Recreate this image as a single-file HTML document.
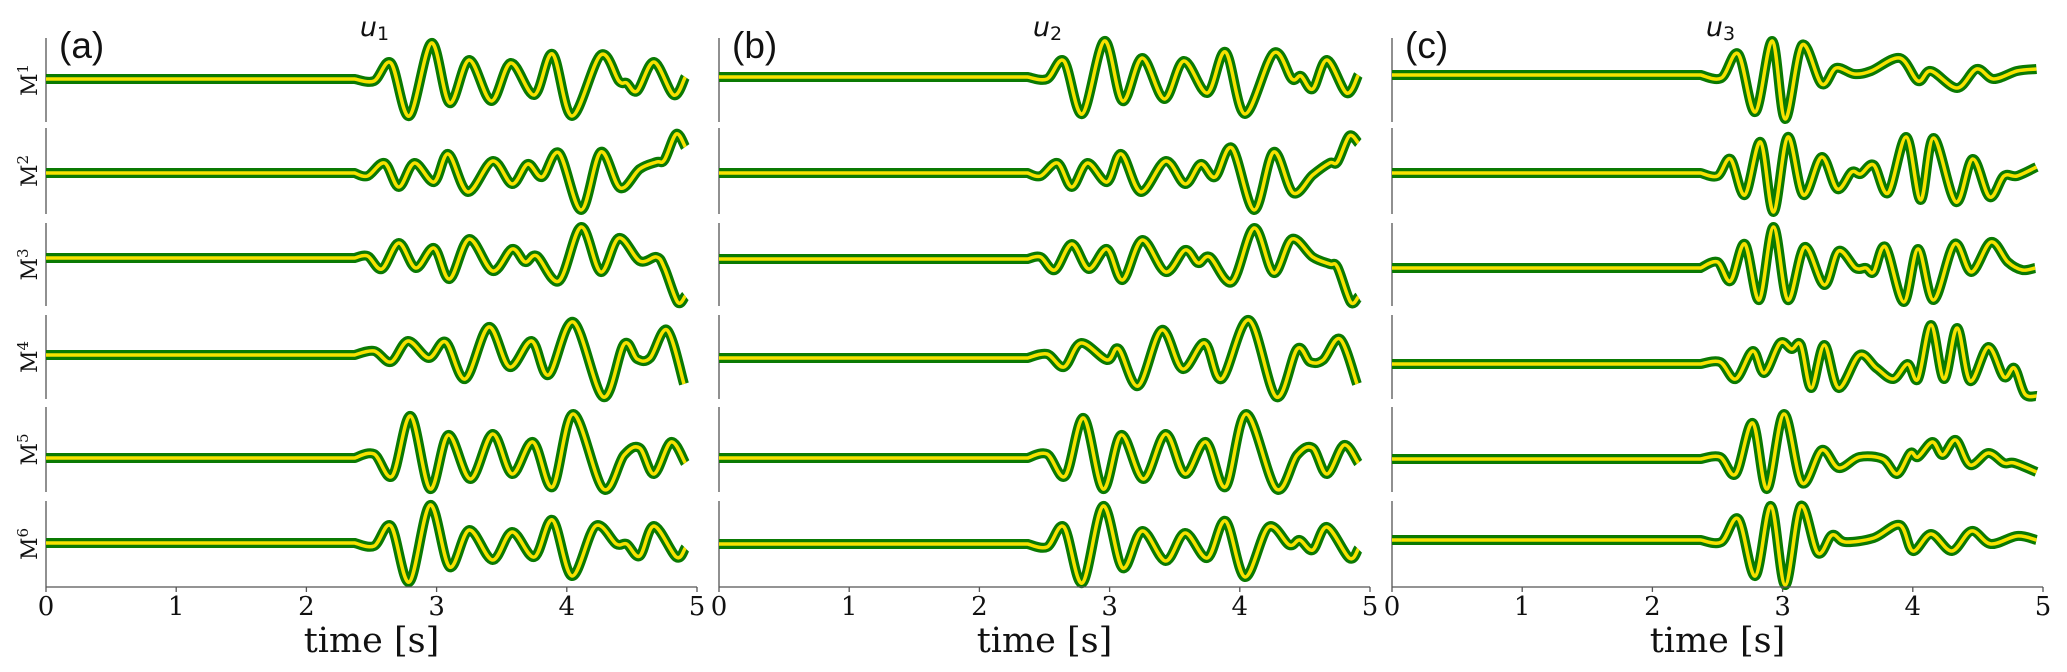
<!DOCTYPE html>
<html><head><meta charset="utf-8"><style>
html,body{margin:0;padding:0;background:#fff;}
svg{display:block;}
</style></head><body>
<svg id="fig" width="2067" height="672" viewBox="0 0 2067 672" xmlns="http://www.w3.org/2000/svg"></svg>
<script>
// ---- data: each trace = time points + displacement values ----
const tA1=[2.37,2.52,2.65,2.79,2.96,3.10,3.25,3.42,3.57,3.75,3.89,4.04,4.26,4.40,4.46,4.54,4.67,4.82,4.91];
const vA1=[0,-2,16,-37,36,-24,19,-22,16,-16,25,-37,24,-2,-4,-12,17,-16,2];
const tA2=[2.37,2.47,2.60,2.71,2.83,2.98,3.09,3.24,3.43,3.58,3.70,3.81,3.94,4.11,4.26,4.41,4.56,4.69,4.75,4.84,4.91];
const vA2=[0,-3,10,-14,10,-9,19,-19,12,-11,9,-4,20,-37,21,-15,4,11,13,39,26];
const tA3=[2.37,2.47,2.58,2.71,2.84,2.98,3.10,3.25,3.43,3.58,3.68,3.77,3.94,4.11,4.26,4.40,4.56,4.69,4.75,4.85,4.91];
const vA3=[0,2,-11,15,-10,10,-21,19,-13,9,-4,2,-23,31,-14,20,-3,1,-10,-44,-38];
const tA4=[2.37,2.52,2.65,2.78,2.94,3.07,3.22,3.40,3.56,3.73,3.86,4.05,4.28,4.44,4.54,4.64,4.77,4.90];
const vA4=[0,4,-7,14,-3,13,-24,28,-12,14,-20,33,-42,11,-4,-3,25,-29];
const tA5=[2.37,2.52,2.66,2.80,2.95,3.09,3.26,3.43,3.58,3.74,3.89,4.05,4.28,4.44,4.56,4.67,4.80,4.91];
const vA5=[0,4,-18,42,-31,23,-21,24,-16,16,-29,44,-31,3,10,-16,16,-5];
const tA6=[2.37,2.52,2.65,2.79,2.95,3.10,3.25,3.43,3.58,3.75,3.89,4.04,4.22,4.38,4.46,4.56,4.67,4.84,4.91];
const vA6=[0,-3,17,-39,38,-24,13,-17,11,-14,23,-33,17,-1,-1,-13,17,-14,-5];

const tB1=[2.37,2.52,2.65,2.79,2.96,3.10,3.25,3.42,3.57,3.75,3.89,4.04,4.26,4.40,4.47,4.56,4.67,4.82,4.91];
const vB1=[0,-2,16,-37,36,-24,19,-22,16,-16,25,-37,24,-2,1,-12,17,-16,2];
const tB2=[2.37,2.47,2.60,2.71,2.83,2.98,3.09,3.24,3.43,3.58,3.70,3.81,3.94,4.11,4.26,4.41,4.56,4.69,4.75,4.84,4.91];
const vB2=[0,-3,10,-14,10,-9,19,-19,12,-11,9,-4,25,-37,21,-20,-2,10,11,37,30];
const tB3=[2.37,2.47,2.58,2.71,2.84,2.98,3.10,3.25,3.43,3.58,3.68,3.77,3.94,4.11,4.26,4.40,4.56,4.69,4.75,4.85,4.91];
const vB3=[0,2,-11,15,-10,10,-21,19,-13,9,-4,2,-23,31,-14,20,2,-5,-8,-43,-38];
const tB4=[2.37,2.52,2.65,2.78,2.98,3.07,3.22,3.40,3.56,3.73,3.86,4.07,4.28,4.44,4.54,4.64,4.77,4.90];
const vB4=[0,4,-9,15,-2,9,-28,28,-11,15,-21,38,-39,9,-4,-2,19,-26];
const tB5=[2.37,2.52,2.66,2.80,2.95,3.09,3.26,3.43,3.58,3.74,3.89,4.05,4.28,4.44,4.56,4.67,4.80,4.91];
const vB5=[0,4,-18,40,-31,23,-21,24,-16,16,-29,44,-31,3,10,-16,13,-5];
const tB6=[2.37,2.52,2.65,2.79,2.95,3.10,3.25,3.43,3.58,3.75,3.89,4.04,4.22,4.38,4.46,4.56,4.67,4.84,4.91];
const vB6=[0,-3,17,-39,38,-24,13,-17,11,-14,23,-33,17,-1,4,-6,17,-14,-5];

const tC1=[2.37,2.53,2.66,2.79,2.92,3.02,3.15,3.30,3.41,3.55,3.68,3.90,4.04,4.14,4.34,4.49,4.62,4.80,4.95];
const vC1=[0,-3,21,-37,34,-44,30,-9,7,1,4,17,-6,4,-13,6,-4,4,6];
const tC2=[2.37,2.50,2.60,2.71,2.83,2.93,3.04,3.16,3.30,3.42,3.53,3.60,3.70,3.81,3.95,4.06,4.16,4.33,4.46,4.59,4.70,4.80,4.95];
const vC2=[0,-3,14,-22,31,-39,36,-22,16,-16,1,-1,8,-20,36,-27,35,-29,14,-24,-3,-3,6];
const tC3=[2.37,2.50,2.60,2.71,2.82,2.93,3.04,3.17,3.32,3.43,3.56,3.64,3.70,3.79,3.93,4.04,4.16,4.32,4.45,4.60,4.73,4.84,4.94];
const vC3=[0,6,-13,24,-32,41,-32,21,-17,17,0,0,-4,21,-34,19,-32,24,-4,26,6,-2,0];
const tC4=[2.37,2.52,2.64,2.77,2.86,2.98,3.07,3.14,3.22,3.32,3.43,3.59,3.72,3.85,3.96,4.04,4.14,4.24,4.34,4.44,4.58,4.70,4.78,4.86,4.95];
const vC4=[0,2,-15,13,-9,21,15,19,-24,19,-24,9,-4,-15,0,-15,39,-15,36,-17,17,-13,-4,-30,-32];
const tC5=[2.37,2.52,2.64,2.77,2.88,3.01,3.15,3.30,3.43,3.59,3.77,3.88,3.98,4.04,4.15,4.23,4.33,4.44,4.58,4.70,4.78,4.95];
const vC5=[0,2,-15,36,-30,45,-24,9,-9,2,0,-15,6,2,17,4,19,-6,6,-4,-4,-13];
const tC6=[2.37,2.53,2.66,2.79,2.91,3.02,3.14,3.27,3.38,3.48,3.70,3.90,4.00,4.14,4.30,4.45,4.60,4.80,4.95];
const vC6=[0,-2,21,-36,34,-45,34,-13,5,-2,2,15,-11,6,-11,9,-4,4,0];

const xTicks=[0,1,2,3,4,5];
const xTickLabels=["0","1","2","3","4","5"];
const rowLabels=["1","2","3","4","5","6"];
const panelLetters=["(a)","(b)","(c)"];
const panelSubs=["1","2","3"];

// ---- layout ----
const NS="http://www.w3.org/2000/svg";
const svg=document.getElementById('fig');
const panelLeft=[46,719,1392];
const panelW=651;
const axisY=587;
const rowTop=[38,128,223,315,407,501];
const rowBot=[122,214,306,399,492,587];
const baseA=[79,173,258,355,458,543];
const baseB=[77,173,259,358,458,544];
const baseC=[75,173,268,364,459,540];
const traces=[
 [[tA1,vA1],[tA2,vA2],[tA3,vA3],[tA4,vA4],[tA5,vA5],[tA6,vA6]],
 [[tB1,vB1],[tB2,vB2],[tB3,vB3],[tB4,vB4],[tB5,vB5],[tB6,vB6]],
 [[tC1,vC1],[tC2,vC2],[tC3,vC3],[tC4,vC4],[tC5,vC5],[tC6,vC6]]
];
const bases=[baseA,baseB,baseC];
function xScale(p,t){return panelLeft[p]+t/5*panelW;}
function yScale(p,r,v){return bases[p][r]-v;}
function mk(tag,attrs){const e=document.createElementNS(NS,tag);for(const k in attrs)e.setAttribute(k,attrs[k]);return e;}

function pathFor(p,r){
  const [ts,vs]=traces[p][r];
  const pts=[];
  for(let i=0;i<ts.length;i++)pts.push([xScale(p,ts[i]),yScale(p,r,vs[i])]);
  let d="M"+xScale(p,0).toFixed(1)+","+yScale(p,r,0).toFixed(1)+" L"+pts[0][0].toFixed(1)+","+pts[0][1].toFixed(1);
  for(let i=0;i<pts.length-1;i++){
    const p0=pts[Math.max(0,i-1)],p1=pts[i],p2=pts[i+1],p3=pts[Math.min(pts.length-1,i+2)];
    const c1x=p1[0]+(p2[0]-p0[0])/6,c1y=p1[1]+(p2[1]-p0[1])/6;
    const c2x=p2[0]-(p3[0]-p1[0])/6,c2y=p2[1]-(p3[1]-p1[1])/6;
    d+=" C"+c1x.toFixed(1)+","+c1y.toFixed(1)+" "+c2x.toFixed(1)+","+c2y.toFixed(1)+" "+p2[0].toFixed(1)+","+p2[1].toFixed(1);
  }
  return d;
}

for(let p=0;p<3;p++){
  const g=mk('g',{});
  
  
  svg.appendChild(g);
  for(let r=0;r<6;r++){
    const sp=mk('line',{x1:panelLeft[p],x2:panelLeft[p],y1:rowTop[r],y2:rowBot[r],stroke:'#555','stroke-width':1.3});
    
    
    g.appendChild(sp);
    const d=pathFor(p,r);
    const outer=mk('path',{d:d,fill:'none',stroke:'#0a7a03','stroke-width':10,'stroke-linejoin':'round','stroke-linecap':'butt'});
    
    
    g.appendChild(outer);
    const inner=mk('path',{d:d,fill:'none',stroke:'#f7e200','stroke-width':3.5,'stroke-linejoin':'round'});
    
    
    g.appendChild(inner);
    if(p===0){
      const cy=(rowTop[r]+rowBot[r])/2;
      const lab=mk('text',{x:0,y:0,transform:'translate(37,'+cy+') rotate(-90)','text-anchor':'middle','font-family':'DejaVu Serif, serif','font-size':22,fill:'#111'});
      
      
      lab.textContent='M';
      const sup=mk('tspan',{'font-size':15,dy:-9});
      sup.textContent=rowLabels[r];
      lab.appendChild(sup);
      g.appendChild(lab);
    }
  }
  const ax=mk('line',{x1:panelLeft[p],x2:panelLeft[p]+panelW,y1:axisY,y2:axisY,stroke:'#555','stroke-width':1.3});
  
  
  g.appendChild(ax);
  for(let i=0;i<xTicks.length;i++){
    const x=xScale(p,xTicks[i]);
    const tk=mk('line',{x1:x,x2:x,y1:axisY,y2:axisY+5,stroke:'#555','stroke-width':1.3});
    
    
    g.appendChild(tk);
    const tl=mk('text',{x:x,y:615,'text-anchor':'middle','font-family':'DejaVu Serif, serif','font-size':26,fill:'#111'});
    
    
    tl.textContent=xTickLabels[i];
    g.appendChild(tl);
  }
  const xt=mk('text',{x:panelLeft[p]+panelW/2,y:652,'text-anchor':'middle','font-family':'DejaVu Serif, serif','font-size':35,fill:'#111'});
  
  
  xt.textContent='time [s]';
  g.appendChild(xt);
  const pl=mk('text',{x:panelLeft[p]+13,y:58,'font-family':'Liberation Sans, sans-serif','font-size':37,fill:'#111'});
  
  
  pl.textContent=panelLetters[p];
  g.appendChild(pl);
  const ti=mk('text',{x:panelLeft[p]+panelW/2+3,y:36,'text-anchor':'middle','font-family':'DejaVu Sans, sans-serif','font-size':27,fill:'#111'});
  
  
  const u=mk('tspan',{'font-style':'italic'});u.textContent='u';ti.appendChild(u);
  const sb=mk('tspan',{'font-size':19,dy:4});sb.textContent=panelSubs[p];ti.appendChild(sb);
  g.appendChild(ti);
}
</script>
</body></html>
